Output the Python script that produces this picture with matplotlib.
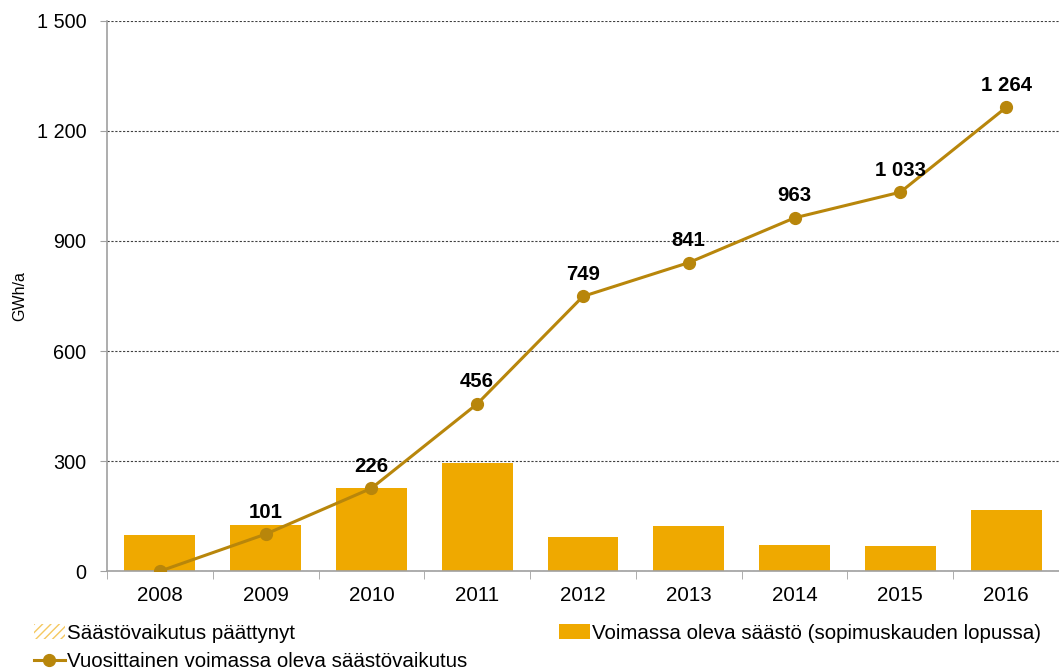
import numpy as np
import matplotlib
matplotlib.use("Agg")
import matplotlib.pyplot as plt
from matplotlib.ticker import FuncFormatter

plt.rcParams['font.family'] = ['Liberation Sans', 'DejaVu Sans']

# data
years = ['2008', '2009', '2010', '2011', '2012', '2013', '2014', '2015', '2016']
voimassa = [98, 125, 226, 295, 93, 123, 71, 68, 166]
paattynyt = [2, 2, 2, 0, 0, 0, 0, 0, 0]
vuosittainen = [0, 101, 226, 456, 749, 841, 963, 1033, 1264]

bar_col = '#EFA900'
line_col = '#B8860B'

fig = plt.figure(figsize=(10.59, 6.72), dpi=100)
ax = fig.add_axes([0.101, 0.150, 0.899, 0.819])

x = np.arange(len(years))
b1 = ax.bar(x, voimassa, width=0.67, color=bar_col, zorder=2,
            label='Voimassa oleva säästö (sopimuskauden lopussa)')
b2 = ax.bar(x, paattynyt, width=0.67, bottom=voimassa, color='white',
            edgecolor='#F5C860', hatch='////', linewidth=0, zorder=2,
            label='Säästövaikutus päättynyt')
ln, = ax.plot(x, vuosittainen, color=line_col, lw=2.2, marker='o',
              markersize=8.5, zorder=3,
              label='Vuosittainen voimassa oleva säästövaikutus')

def fmt(v):
    return '{:,}'.format(int(v)).replace(',', ' ')

for xi, v in zip(x, vuosittainen):
    if v == 0:
        continue
    ax.annotate(fmt(v), (xi, v), xytext=(0, 9), textcoords='offset points',
                ha='center', va='bottom', fontsize=14.7, fontweight='bold')

ax.set_xlim(-0.5, len(years) - 0.5)
ax.set_ylim(0, 1500)
ax.set_yticks([0, 300, 600, 900, 1200, 1500])
ax.yaxis.set_major_formatter(FuncFormatter(lambda v, p: fmt(v)))
ax.set_ylabel('GWh/a', fontsize=11.5, labelpad=7)

ax.set_xticks(x)
ax.set_xticklabels(years)
ax.set_xticks(np.arange(-0.5, len(years)), minor=True)
ax.tick_params(axis='x', which='major', length=0, labelsize=14.8, pad=11)
ax.tick_params(axis='x', which='minor', length=6, color='#A0A0A0', direction='out')
ax.tick_params(axis='y', length=5, color='#A0A0A0', labelsize=14.3, pad=10, direction='out')

ax.grid(axis='y', color='#404040', linestyle=(0, (2, 1.5)), linewidth=0.8, zorder=0)
for s in ['top', 'right']:
    ax.spines[s].set_visible(False)
for s in ['left', 'bottom']:
    ax.spines[s].set_color('#A0A0A0')
    ax.spines[s].set_linewidth(1.2)

leg1 = fig.legend([b2, ln], [b2.get_label(), ln.get_label()],
                  loc='upper left', bbox_to_anchor=(0.032, 0.072),
                  frameon=False, fontsize=14.8, handlelength=1.5,
                  handletextpad=0.1, labelspacing=0.45, borderaxespad=0,
                  borderpad=0)
leg2 = fig.legend([b1], [b1.get_label()],
                  loc='upper left', bbox_to_anchor=(0.528, 0.072),
                  frameon=False, fontsize=14.8, handlelength=1.5,
                  handletextpad=0.1, borderaxespad=0, borderpad=0)

fig.savefig('out.png', dpi=100)
